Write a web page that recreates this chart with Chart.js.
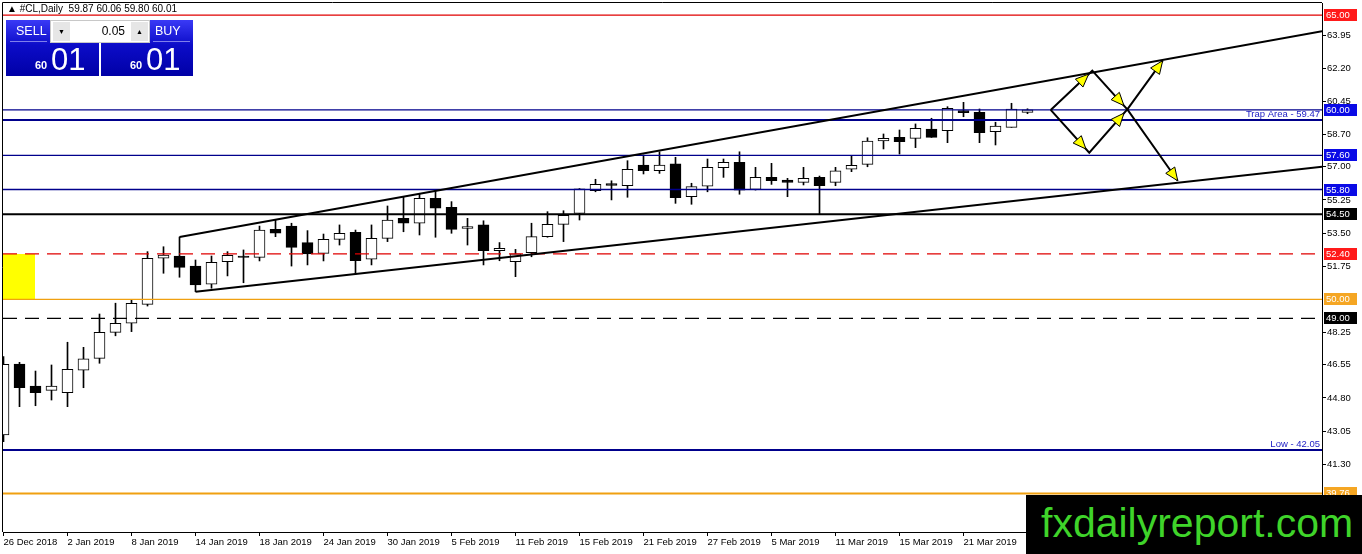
<!DOCTYPE html>
<html>
<head>
<meta charset="utf-8">
<title>#CL,Daily</title>
<script src="https://cdn.jsdelivr.net/npm/chart.js@4.4.1/dist/chart.umd.min.js"></script>
<style>
  html, body { margin: 0; padding: 0; background: #fff; }
  #wrap { position: relative; width: 1362px; height: 554px; overflow: hidden; font-family: "Liberation Sans", Arial, sans-serif; }
  #chart { position: absolute; left: 0; top: 0; }
  .hdr { position: absolute; left: 7px; top: 3px; font-size: 10px; color: #000; white-space: pre; line-height: 11px; }
  .blk { position: absolute; top: 20px; height: 56px; background: linear-gradient(#3a3af6, #0c0cc8 45%, #0000a6); color: #fff; }
  .blk .lab { position: absolute; top: 3px; font-size: 12.5px; line-height: 16px; }
  .blk .sep { position: absolute; top: 21px; height: 1px; background: rgba(200,200,255,0.6); }
  .blk .s { position: absolute; left: 29px; top: 40px; font-size: 11px; font-weight: bold; line-height: 11px; }
  .blk .b { position: absolute; left: 45px; top: 24px; font-size: 31px; line-height: 31px; }
  .spin { position: absolute; left: 50px; top: 20px; width: 98px; height: 21px; background: #fff; border: 1px solid #c8c8c8; }
  .spin .btn { position: absolute; top: 1px; width: 17px; height: 19px; background: #e6e6e6; font-size: 7px; line-height: 19px; text-align: center; color: #000; }
  .spin .fld { position: absolute; left: 21px; top: 2px; width: 53px; text-align: right; font-size: 12px; line-height: 16px; }
  .brand { position: absolute; left: 1026px; top: 495px; width: 336px; height: 59px; background: #000; color: #3fd42a; font-size: 41px; line-height: 57px; text-indent: 15px; }
</style>
</head>
<body>
<div id="wrap">
  <canvas id="chart" width="1362" height="554"></canvas>
  <div class="hdr">▲ #CL,Daily  59.87 60.06 59.80 60.01</div>
  <div class="blk" style="left:6px;width:93px;">
    <div class="lab" style="left:10px;">SELL</div>
    <div class="sep" style="left:4px;width:37px;"></div>
    <span class="s">60</span><span class="b">01</span>
  </div>
  <div class="blk" style="left:101px;width:92px;">
    <div class="lab" style="left:54px;">BUY</div>
    <div class="sep" style="left:52px;width:37px;"></div>
    <span class="s">60</span><span class="b">01</span>
  </div>
  <div class="spin">
    <div class="btn" style="left:2px;">▼</div>
    <div class="fld">0.05</div>
    <div class="btn" style="left:80px;">▲</div>
  </div>
  <div class="brand">fxdailyreport.com</div>
</div>
<script>
// one label every 4 bars
const dateLabels = ['26 Dec 2018', '2 Jan 2019', '8 Jan 2019', '14 Jan 2019', '18 Jan 2019', '24 Jan 2019',
  '30 Jan 2019', '5 Feb 2019', '11 Feb 2019', '15 Feb 2019', '21 Feb 2019', '27 Feb 2019',
  '5 Mar 2019', '11 Mar 2019', '15 Mar 2019', '21 Mar 2019'];

const opens = [42.85, 46.59, 45.43, 45.20, 45.08, 46.26, 46.89, 48.26, 48.74, 49.74,
  52.17, 52.29, 51.76, 50.80, 51.99, 52.29, 52.22, 53.70, 53.87, 53.00,
  52.43, 53.17, 53.54, 52.12, 53.22, 54.28, 54.02, 55.34, 54.86, 53.75,
  53.93, 52.57, 51.99, 52.47, 53.31, 53.96, 54.54, 55.74, 56.11, 56.00,
  57.09, 56.79, 57.15, 55.42, 55.98, 56.95, 57.24, 55.81, 56.44, 56.30,
  56.18, 56.44, 56.18, 56.87, 57.13, 58.37, 58.55, 58.50, 58.99, 58.90,
  59.96, 59.87, 58.85, 59.08, 59.87];
const highs = [46.98, 46.68, 46.22, 46.54, 47.74, 47.47, 49.23, 49.80, 49.97, 52.52,
  52.78, 53.29, 52.08, 52.29, 52.52, 52.61, 53.87, 54.19, 54.02, 53.63,
  53.45, 53.93, 53.66, 53.93, 54.93, 55.42, 55.60, 55.77, 55.16, 54.28,
  54.15, 53.00, 52.64, 54.02, 54.63, 54.68, 55.85, 56.34, 56.26, 57.32,
  57.62, 57.79, 57.50, 56.13, 57.41, 57.41, 57.79, 56.97, 57.18, 56.39,
  56.97, 56.51, 56.97, 57.58, 58.53, 58.73, 58.94, 59.26, 59.56, 60.17,
  60.40, 60.05, 59.35, 60.35, 60.06];
const lows = [42.49, 44.34, 44.39, 44.69, 44.34, 45.34, 46.63, 48.08, 48.30, 49.65,
  51.38, 51.17, 50.41, 50.59, 51.24, 50.88, 52.03, 53.31, 51.76, 51.82,
  52.03, 52.87, 51.33, 51.82, 53.05, 53.57, 53.40, 53.28, 53.49, 52.87,
  51.82, 52.04, 51.20, 52.25, 53.28, 53.05, 54.19, 55.68, 55.25, 55.39,
  56.62, 56.65, 55.07, 55.02, 55.68, 56.44, 55.55, 55.77, 56.07, 55.42,
  56.04, 54.51, 56.00, 56.74, 57.00, 57.94, 57.67, 58.01, 58.55, 58.27,
  59.64, 58.27, 58.15, 59.08, 59.80];
const closes = [46.58, 45.34, 45.08, 45.43, 46.31, 46.86, 48.26, 48.74, 49.79, 52.17,
  52.34, 51.69, 50.76, 51.96, 52.33, 52.22, 53.66, 53.49, 52.75, 52.40,
  53.17, 53.49, 52.04, 53.22, 54.19, 54.02, 55.34, 54.81, 53.70, 53.84,
  52.57, 52.70, 52.40, 53.31, 53.96, 54.44, 55.83, 56.07, 56.02, 56.87,
  56.79, 57.09, 55.37, 55.95, 56.97, 57.24, 55.77, 56.44, 56.26, 56.18,
  56.39, 56.00, 56.78, 57.08, 58.36, 58.50, 58.32, 59.03, 58.55, 60.08,
  59.85, 58.80, 59.15, 60.05, 60.01];

const priceTicks = [63.95, 62.20, 60.45, 58.70, 57.00, 55.25, 53.50, 51.75, 48.25, 46.55, 44.80, 43.05, 41.30];

const levelValues = [65.00, 60.00, 59.47, 57.60, 55.80, 54.50, 52.40, 50.00, 49.00, 42.05, 39.76];
const levelNotes = { 59.47: 'Trap Area - 59.47', 42.05: 'Low - 42.05' };

// channel lines: [bar index], [price]
const upperBars = [11, 82.41], upperPrices = [53.29, 64.15];
const lowerBars = [12, 82.41], lowerPrices = [50.41, 57.00];

// zigzag projection arrows
const arrowUpBars = [65.45, 68.05, 70.24, 72.45], arrowUpPrices = [60.00, 62.07, 60.03, 62.60];
const arrowDnBars = [65.45, 67.86, 70.24, 73.39], arrowDnPrices = [60.00, 57.74, 60.03, 56.26];

// yellow zone at the left edge
const zoneBars = [-0.04, 1.97], zonePrices = [52.40, 50.00];

// ---- styles ----
const NAVY = '#00008c';
const levelStyle = {
  65.00: { color: '#e00000', width: 1.3, box: '#ff1a1a' },
  60.00: { color: NAVY, width: 1.3, box: '#0a0ae6' },
  59.47: { color: NAVY, width: 2 },
  57.60: { color: NAVY, width: 1.3, box: '#0a0ae6' },
  55.80: { color: NAVY, width: 1.3, box: '#0a0ae6' },
  54.50: { color: '#000', width: 2, box: '#000' },
  52.40: { color: '#e00000', width: 1.3, dash: [14, 8], box: '#ff1a1a' },
  50.00: { color: '#f0a010', width: 1.3, box: '#f5a623' },
  49.00: { color: '#000', width: 1.3, dash: [14, 8], box: '#000' },
  42.05: { color: NAVY, width: 2 },
  39.76: { color: '#f0a010', width: 2, box: '#f5a623' }
};

const X_MIN = -1 / 32, X_MAX = 82.40625;
const Y_MIN = 37.726, Y_MAX = 65.642;

const pts = (xs, ys) => xs.map((x, i) => ({ x: x, y: ys[i] }));
const bars = opens.map((o, i) => i);
const isUp = bars.map(i => closes[i] >= opens[i]);

const datasets = [];

datasets.push({
  type: 'line', data: pts(zoneBars, [zonePrices[0], zonePrices[0]]),
  borderWidth: 0, pointRadius: 0, backgroundColor: '#ffff00', fill: { value: zonePrices[1] }, order: 20
});

datasets.push({
  type: 'bar', data: bars.map(i => ({ x: i, y: [lows[i], highs[i]] })),
  backgroundColor: '#000', borderWidth: 0, barThickness: 1, grouped: false, order: 12
});
datasets.push({
  type: 'bar', data: bars.map(i => ({ x: i, y: [opens[i], closes[i]] })),
  backgroundColor: bars.map(i => isUp[i] ? '#fff' : '#000'),
  borderColor: '#000', borderWidth: 1, borderSkipped: false, barThickness: 11, grouped: false, order: 11
});

levelValues.forEach(v => {
  const st = levelStyle[v];
  datasets.push({
    type: 'line', data: pts([X_MIN, X_MAX], [v, v]),
    borderColor: st.color, borderWidth: st.width, borderDash: st.dash || [],
    pointRadius: 0, fill: false, order: 6
  });
});

[[upperBars, upperPrices], [lowerBars, lowerPrices], [arrowUpBars, arrowUpPrices], [arrowDnBars, arrowDnPrices]]
  .forEach(([xs, ys]) => {
    datasets.push({
      type: 'line', data: pts(xs, ys), borderColor: '#000', borderWidth: 2,
      pointRadius: 0, fill: false, tension: 0, order: 4
    });
  });

function arrowHead(ctx, x0, y0, x1, y1, back) {
  const a = Math.atan2(y1 - y0, x1 - x0);
  const tx = x1 - Math.cos(a) * back, ty = y1 - Math.sin(a) * back;
  const len = 13, hw = 5.5;
  const bx = tx - Math.cos(a) * len, by = ty - Math.sin(a) * len;
  ctx.beginPath();
  ctx.moveTo(tx, ty);
  ctx.lineTo(bx - Math.sin(a) * hw, by + Math.cos(a) * hw);
  ctx.lineTo(bx + Math.sin(a) * hw, by - Math.cos(a) * hw);
  ctx.closePath();
  ctx.fillStyle = '#ffff00';
  ctx.fill();
  ctx.strokeStyle = '#000';
  ctx.lineWidth = 1;
  ctx.stroke();
}

const overlay = {
  id: 'overlay',
  afterDatasetsDraw(chart) {
    const { ctx, scales: { x, y } } = chart;
    ctx.save();
    [[arrowUpBars, arrowUpPrices], [arrowDnBars, arrowDnPrices]].forEach(([xs, ys]) => {
      for (let i = 1; i < xs.length; i++) {
        arrowHead(ctx, x.getPixelForValue(xs[i - 1]), y.getPixelForValue(ys[i - 1]),
          x.getPixelForValue(xs[i]), y.getPixelForValue(ys[i]), i === xs.length - 1 ? 0 : 5);
      }
    });
    // object descriptions
    ctx.font = '9.5px "Liberation Sans", Arial, sans-serif';
    ctx.fillStyle = '#1c1cc4';
    ctx.textAlign = 'right';
    ctx.textBaseline = 'bottom';
    Object.keys(levelNotes).forEach(v => {
      ctx.fillText(levelNotes[v], chart.chartArea.right - 2, y.getPixelForValue(+v) - 1);
    });
    ctx.restore();
  },
  afterDraw(chart) {
    const { ctx, chartArea: a, scales: { y } } = chart;
    ctx.save();
    ctx.strokeStyle = '#000';
    ctx.lineWidth = 1;
    ctx.beginPath();
    ctx.moveTo(a.left - 0.5, a.bottom);
    ctx.lineTo(a.left - 0.5, a.top - 0.5);
    ctx.lineTo(a.right, a.top - 0.5);
    ctx.stroke();
    // price boxes on the axis
    ctx.font = '9.5px "Liberation Sans", Arial, sans-serif';
    ctx.textAlign = 'left';
    ctx.textBaseline = 'middle';
    levelValues.forEach(v => {
      const st = levelStyle[v];
      if (!st.box) return;
      const py = Math.round(y.getPixelForValue(v));
      ctx.fillStyle = st.box;
      ctx.fillRect(a.right + 2, py - 6, 33, 12);
      ctx.fillStyle = '#fff';
      ctx.fillText(v.toFixed(2), a.right + 4, py + 0.5);
    });
    ctx.restore();
  }
};

function noPad(s) {
  s.paddingTop = 0; s.paddingBottom = 0; s.paddingLeft = 0; s.paddingRight = 0;
}

new Chart(document.getElementById('chart'), {
  data: { datasets: datasets },
  options: {
    responsive: false,
    animation: false,
    layout: { padding: { left: 3, top: 3, right: 0, bottom: 0 } },
    plugins: { legend: { display: false }, tooltip: { enabled: false } },
    scales: {
      x: {
        type: 'linear', min: X_MIN, max: X_MAX, offset: false,
        afterFit(s) { s.height = 22; noPad(s); },
        afterBuildTicks(s) { s.ticks = dateLabels.map((d, i) => ({ value: i * 4 })); },
        grid: { drawOnChartArea: false, drawTicks: true, tickLength: 4, color: '#000', offset: false },
        border: { display: true, color: '#000', width: 1 },
        ticks: {
          align: 'start', maxRotation: 0, autoSkip: false, padding: 1, color: '#000',
          font: { family: '"Liberation Sans", Arial, sans-serif', size: 9.5 },
          callback: (v, i) => dateLabels[i]
        }
      },
      y: {
        type: 'linear', position: 'right', min: Y_MIN, max: Y_MAX,
        afterFit(s) { s.width = 40; noPad(s); },
        afterBuildTicks(s) { s.ticks = priceTicks.map(v => ({ value: v })); },
        grid: { drawOnChartArea: false, drawTicks: true, tickLength: 4, color: '#000' },
        border: { display: true, color: '#000', width: 1 },
        ticks: {
          autoSkip: false, padding: 1, color: '#000',
          font: { family: '"Liberation Sans", Arial, sans-serif', size: 9.5 },
          callback: v => v.toFixed(2)
        }
      }
    }
  },
  plugins: [overlay]
});
</script>
</body>
</html>
